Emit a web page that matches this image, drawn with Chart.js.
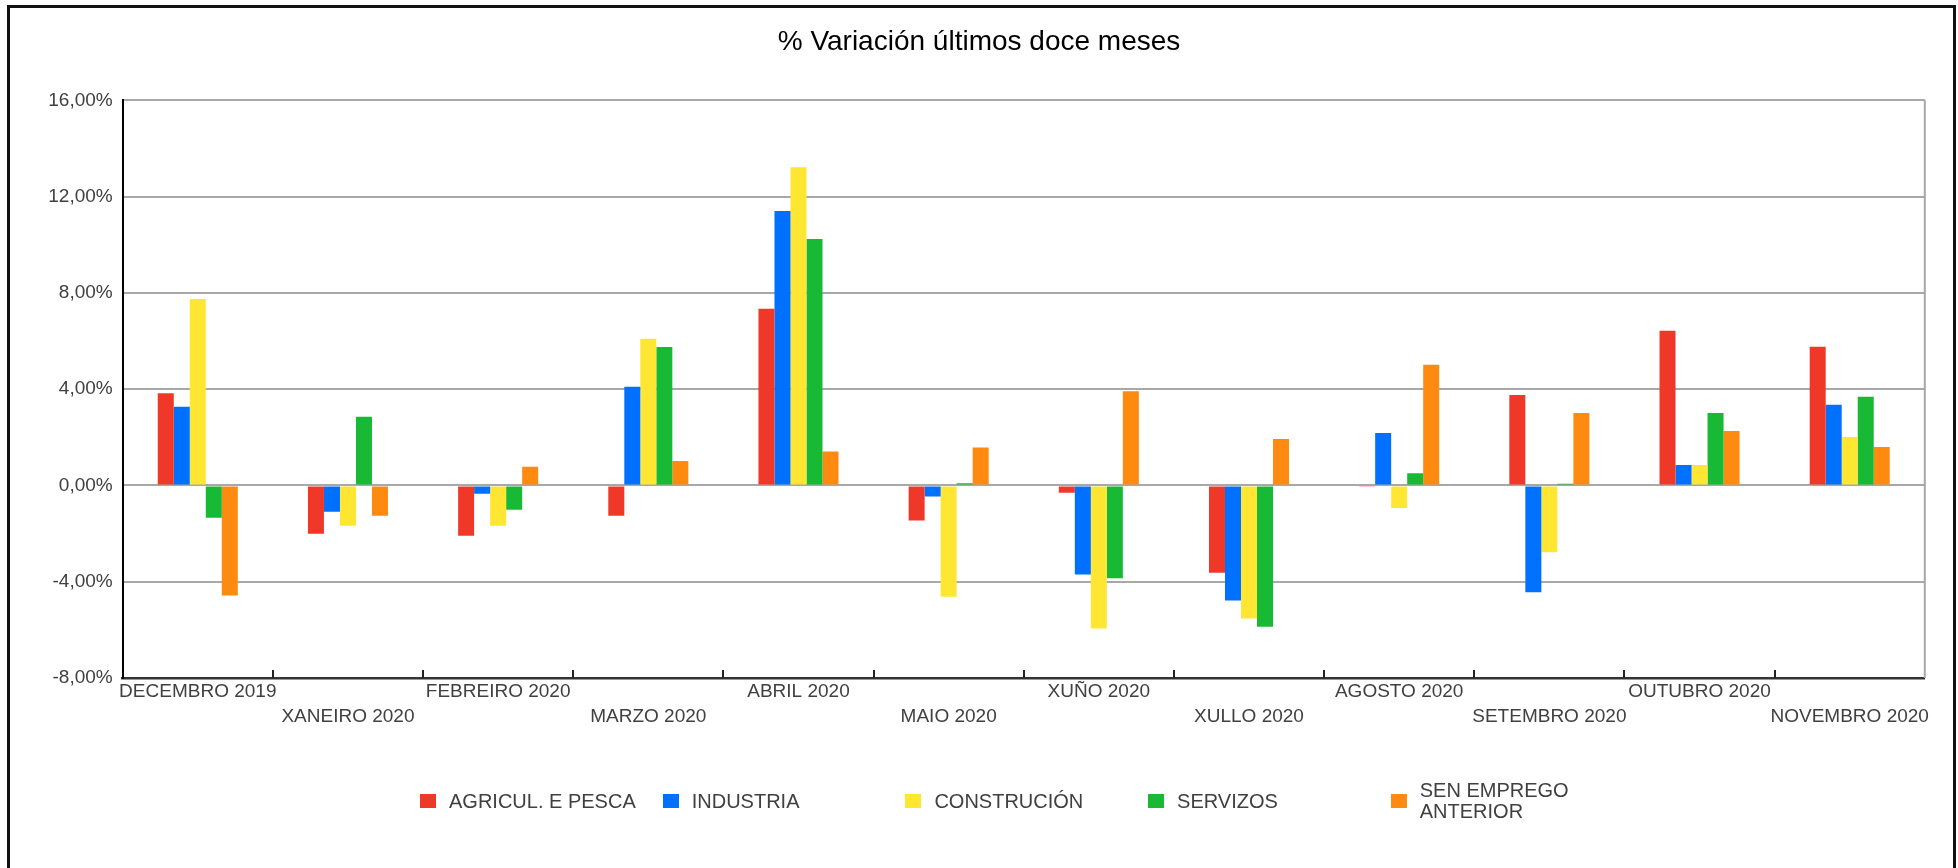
<!DOCTYPE html>
<html>
<head>
<meta charset="utf-8">
<script src="https://cdn.jsdelivr.net/npm/chart.js@4/dist/chart.umd.min.js"></script>
<style>
  html, body { margin: 0; padding: 0; background: #fff; }
  body { width: 1958px; height: 868px; position: relative; overflow: hidden; font-family: 'Liberation Sans', Arial, sans-serif; }
  #frame { position: absolute; left: 7px; top: 5px; width: 1943px; height: 900px; border: 3px solid #111; box-sizing: content-box; }
  #wrap { position: absolute; left: 0; top: 0; width: 1958px; height: 868px; }
  #legend { position: absolute; left: 420px; top: 781px; height: 40px; display: flex; }
  .item { width: 242.7px; display: flex; align-items: center; }
  .box { width: 16px; height: 14px; margin-right: 13px; flex: none; }
  .txt { font-size: 20px; line-height: 21px; color: #404040; }
</style>
</head>
<body>
<div id="frame"></div>
<div id="wrap"><canvas id="c"></canvas></div>
<div id="legend"></div>
<script>
const title = '% Variación últimos doce meses';
const categories = ['DECEMBRO 2019', 'XANEIRO 2020', 'FEBREIRO 2020', 'MARZO 2020', 'ABRIL 2020', 'MAIO 2020', 'XUÑO 2020', 'XULLO 2020', 'AGOSTO 2020', 'SETEMBRO 2020', 'OUTUBRO 2020', 'NOVEMBRO 2020'];
const seriesNames = [['AGRICUL. E PESCA'], ['INDUSTRIA'], ['CONSTRUCIÓN'], ['SERVIZOS'], ['SEN EMPREGO', 'ANTERIOR']];
const agricultura  = [3.83, -2.01, -2.09, -1.26, 7.34, -1.46, -0.30, -3.63, -0.05, 3.76, 6.43, 5.76];
const industria    = [3.27, -1.09, -0.35, 4.10, 11.40, -0.46, -3.70, -4.78, 2.18, -4.44, 0.85, 3.35];
const construcion  = [7.75, -1.67, -1.67, 6.09, 13.22, -4.62, -5.94, -5.53, -0.94, -2.78, 0.85, 2.01];
const servizos     = [-1.34, 2.85, -1.01, 5.75, 10.24, 0.09, -3.86, -5.87, 0.51, 0.07, 3.01, 3.68];
const senEmprego   = [-4.57, -1.26, 0.78, 1.01, 1.41, 1.58, 3.91, 1.93, 5.01, 3.01, 2.26, 1.60];
const seriesValues = [agricultura, industria, construcion, servizos, senEmprego];
const seriesColors = ['#F03829', '#0070FF', '#FFE633', '#18B934', '#FF8A10'];
const yTicks = { min: -8, max: 16, step: 4 };

const FONT = "'Liberation Sans', Arial, sans-serif";
Chart.defaults.font.family = FONT;

const xLabels = categories.map((c, i) => i % 2 === 0 ? c : ['', c]);

const decor = {
  id: 'decor',
  afterDraw(chart) {
    const { ctx, chartArea: a, scales: { x } } = chart;
    ctx.save();
    ctx.strokeStyle = '#a6a6a6';
    ctx.lineWidth = 2;
    ctx.beginPath(); ctx.moveTo(a.right, a.top); ctx.lineTo(a.right, a.bottom); ctx.stroke();
    ctx.strokeStyle = '#222';
    ctx.lineWidth = 2;
    for (let i = 1; i < categories.length; i++) {
      const px = Math.round((x.getPixelForValue(i - 1) + x.getPixelForValue(i)) / 2);
      ctx.beginPath(); ctx.moveTo(px, a.bottom); ctx.lineTo(px, a.bottom - 8); ctx.stroke();
    }
    ctx.restore();
  }
};

new Chart(document.getElementById('c'), {
  type: 'bar',
  data: {
    labels: xLabels,
    datasets: seriesValues.map((vals, i) => ({
      label: seriesNames[i].join(' '),
      data: vals,
      backgroundColor: seriesColors[i],
      borderWidth: 0,
      categoryPercentage: 0.533,
      barPercentage: 1.0
    }))
  },
  options: {
    responsive: true,
    maintainAspectRatio: false,
    animation: false,
    layout: { padding: { left: 33.2, right: 33.2, top: 0, bottom: 130 } },
    plugins: {
      legend: { display: false },
      tooltip: { enabled: false },
      title: {
        display: true,
        text: title,
        color: '#000',
        font: { size: 28, weight: 'normal', family: FONT, lineHeight: 1.2 },
        padding: { top: 25.2, bottom: 41.5 }
      }
    },
    scales: {
      x: {
        grid: { display: false, drawTicks: false },
        border: { display: true, color: '#333', width: 2.5 },
        ticks: {
          color: '#404040',
          font: { size: 19, lineHeight: 1.28 },
          padding: 2,
          maxRotation: 0,
          autoSkip: false
        },
        afterFit(s) { s.height = 60; }
      },
      y: {
        min: yTicks.min,
        max: yTicks.max,
        grid: { color: '#a8a8a8', lineWidth: 2, drawTicks: false },
        border: { display: true, color: '#000', width: 2 },
        ticks: {
          stepSize: yTicks.step,
          color: '#404040',
          font: { size: 19 },
          padding: 10,
          callback: v => v.toFixed(2).replace('.', ',') + '%'
        },
        afterFit(s) { s.width = 89.5; }
      }
    }
  },
  plugins: [decor]
});

const legend = document.getElementById('legend');
seriesNames.forEach((name, i) => {
  const item = document.createElement('div');
  item.className = 'item';
  const box = document.createElement('div');
  box.className = 'box';
  box.style.background = seriesColors[i];
  const txt = document.createElement('div');
  txt.className = 'txt';
  name.forEach((line, j) => {
    if (j > 0) txt.appendChild(document.createElement('br'));
    txt.appendChild(document.createTextNode(line));
  });
  item.appendChild(box);
  item.appendChild(txt);
  legend.appendChild(item);
});
</script>
</body>
</html>
